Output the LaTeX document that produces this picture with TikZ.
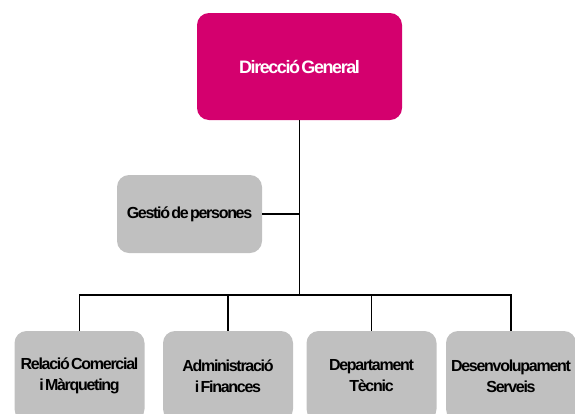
\documentclass[tikz,border=0pt]{standalone}
\usepackage{fontspec}
\setmainfont{Liberation Sans}[BoldFont={Liberation Sans Bold}]
\newfontfamily\orgfont{Liberation Sans Bold}[LetterSpace=-8, WordSpace=0.4]
\definecolor{dirmagenta}{HTML}{D4006E}
\definecolor{unitgray}{HTML}{C0C0C0}
\tikzset{
  orgbox/.style={rounded corners=12pt, align=center, inner sep=0pt,
    font=\orgfont\fontsize{16}{21}\selectfont},
  dirbox/.style={orgbox, fill=dirmagenta, text=white,
    font=\orgfont\fontsize{18}{21}\selectfont,
    minimum width=205pt, minimum height=107pt},
  unitbox/.style={orgbox, fill=unitgray, text=black,
    minimum width=130pt, minimum height=90pt},
  staffbox/.style={orgbox, fill=unitgray, text=black,
    minimum width=145pt, minimum height=78pt},
  link/.style={draw=black, line width=1.2pt}
}
\begin{document}
\begin{tikzpicture}[x=1pt, y=-1pt]
  \useasboundingbox (0,0) rectangle (575,413);
  \clip (0,0) rectangle (575,413);

  % management
  \node[dirbox] (dir) at (299.5,66.5) {Direcció General};
  \node[staffbox] (gest) at (189.5,214) {Gestió de persones};

  % departments
  \node[unitbox] (rel) at (79.5,376) {Relació Comercial\\i Màrqueting};
  \node[unitbox] (adm) at (228,376) {Administració\\i Finances};
  \node[unitbox] (tec) at (371.5,376) {Departament\\Tècnic};
  \node[unitbox] (des) at (511,376) {Desenvolupament\\Serveis};

  % junction on the distribution bar
  \coordinate (junc) at (299.5,295);

  % connectors
  \draw[link] (dir.south) -- (junc);
  \draw[link] (gest.east) -- (gest.east -| dir.south);
  \draw[link] (rel.north) |- (junc) -| (des.north);
  \draw[link] (adm.north) -- (adm.north |- junc);
  \draw[link] (tec.north) -- (tec.north |- junc);
\end{tikzpicture}
\end{document}
